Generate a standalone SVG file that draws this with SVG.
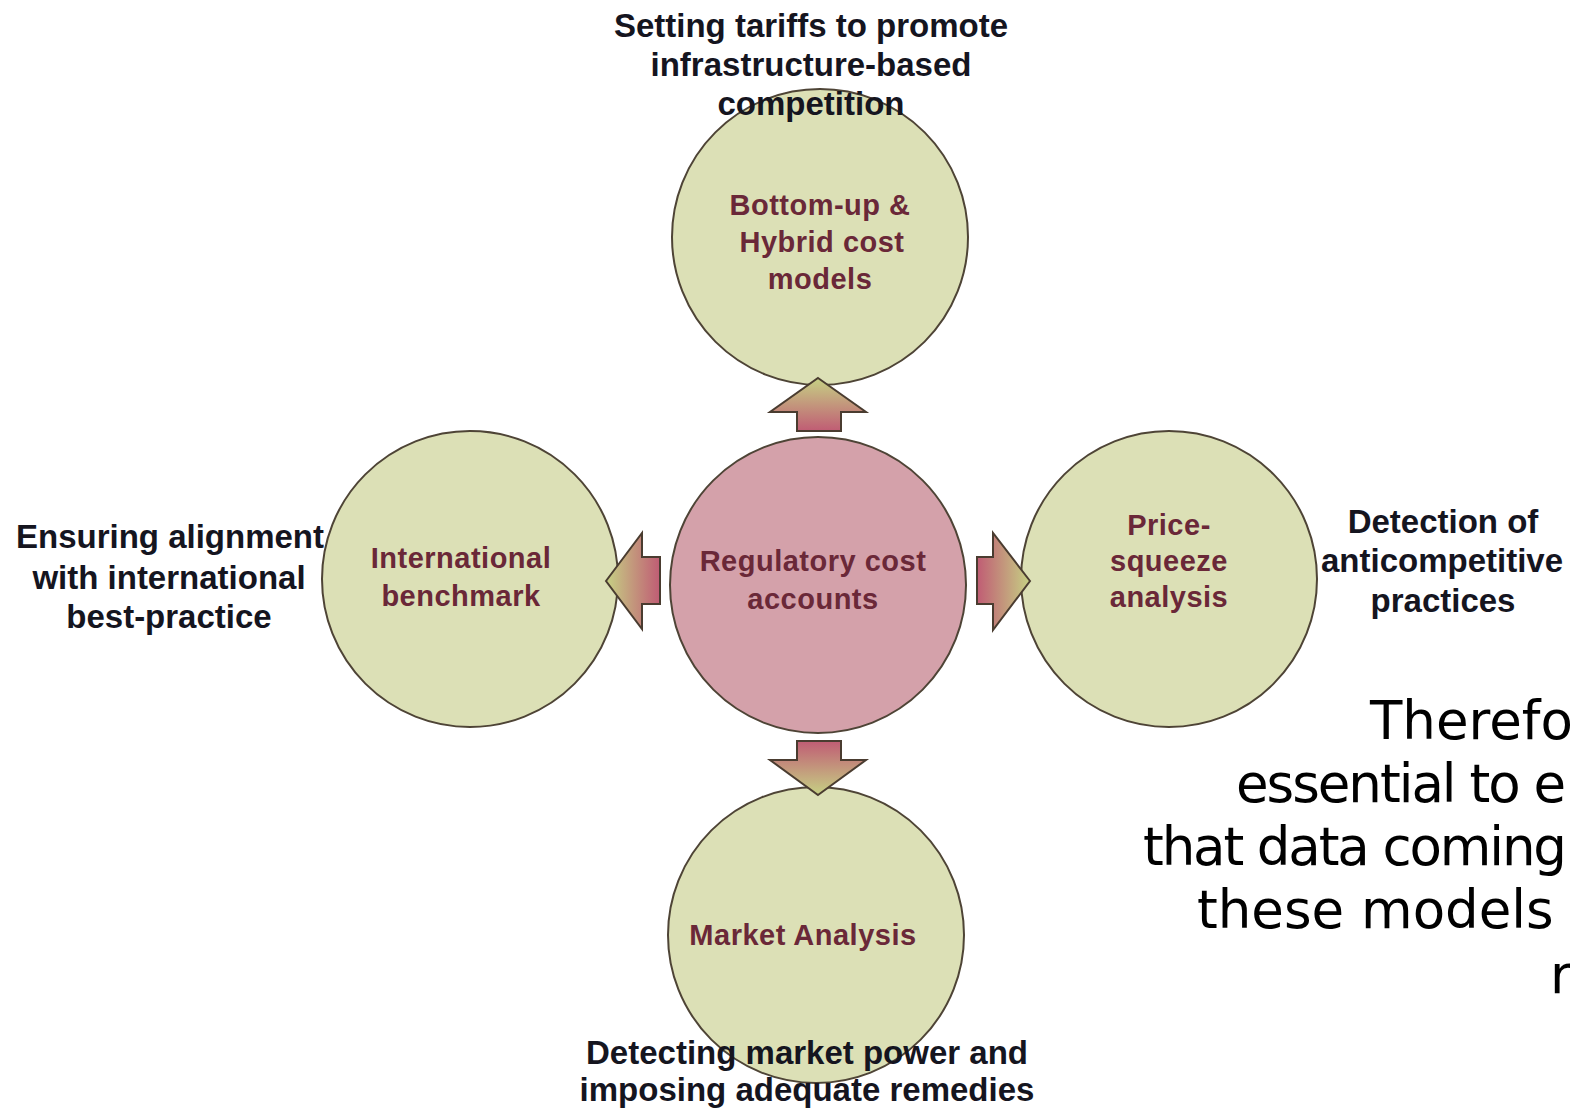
<svg xmlns="http://www.w3.org/2000/svg" width="1570" height="1108" viewBox="0 0 1570 1108">
  <style>
    .node { fill: #dce0b6; stroke: #4e4436; stroke-width: 2; }
    .hub { fill: #d4a1aa; stroke: #4e4436; stroke-width: 2; }
    .lbl { font-family: "Liberation Sans", Arial, sans-serif; font-weight: bold; font-size: 29px; fill: #6a2838; text-anchor: middle; letter-spacing: 0.5px; }
    .out { font-family: "Liberation Sans", Arial, sans-serif; font-weight: bold; font-size: 33px; fill: #15151f; text-anchor: middle; }
    .note { font-family: "DejaVu Sans", Verdana, sans-serif; font-size: 53px; fill: #000; }
    .arrow { stroke: #4a3c30; stroke-width: 2; stroke-linejoin: miter; }
  </style>
  <defs>
    <linearGradient id="gUp" x1="0" y1="1" x2="0" y2="0">
      <stop offset="0" stop-color="#c05c74"/>
      <stop offset="1" stop-color="#c6d184"/>
    </linearGradient>
    <linearGradient id="gDown" x1="0" y1="0" x2="0" y2="1">
      <stop offset="0" stop-color="#c05c74"/>
      <stop offset="1" stop-color="#c6d184"/>
    </linearGradient>
    <linearGradient id="gLeft" x1="1" y1="0" x2="0" y2="0">
      <stop offset="0" stop-color="#c05c74"/>
      <stop offset="1" stop-color="#c6d184"/>
    </linearGradient>
    <linearGradient id="gRight" x1="0" y1="0" x2="1" y2="0">
      <stop offset="0" stop-color="#c05c74"/>
      <stop offset="1" stop-color="#c6d184"/>
    </linearGradient>
  </defs>

  <rect width="1570" height="1108" fill="#ffffff"/>

  <!-- outer circles -->
  <g id="node-bottomup">
    <circle class="node" cx="820" cy="237" r="148"/>
    <text class="lbl"><tspan x="820" y="215">Bottom-up &amp;</tspan><tspan x="822" y="252">Hybrid cost</tspan><tspan x="820" y="289">models</tspan></text>
  </g>
  <g id="node-benchmark">
    <circle class="node" cx="470" cy="579" r="148"/>
    <text class="lbl"><tspan x="461" y="568">International</tspan><tspan x="461" y="606">benchmark</tspan></text>
  </g>
  <g id="node-pricesqueeze">
    <circle class="node" cx="1169" cy="579" r="148"/>
    <text class="lbl"><tspan x="1169" y="535">Price-</tspan><tspan x="1169" y="571">squeeze</tspan><tspan x="1169" y="607">analysis</tspan></text>
  </g>
  <g id="node-market">
    <circle class="node" cx="816" cy="935" r="148"/>
    <text class="lbl"><tspan x="803" y="945">Market Analysis</tspan></text>
  </g>
  <g id="node-hub">
    <circle class="hub" cx="818" cy="585" r="148"/>
    <text class="lbl"><tspan x="813" y="571">Regulatory cost</tspan><tspan x="813" y="609">accounts</tspan></text>
  </g>

  <!-- block arrows from the hub -->
  <g id="connectors">
    <polygon class="arrow" fill="url(#gUp)" points="818,378 866,412 841,412 841,431 797,431 797,412 770,412"/>
    <polygon class="arrow" fill="url(#gDown)" points="818,795 866,760 841,760 841,741 797,741 797,760 770,760"/>
    <polygon class="arrow" fill="url(#gLeft)" points="606,581 642,533 642,557 660,557 660,604 642,604 642,629"/>
    <polygon class="arrow" fill="url(#gRight)" points="1030,581 993,533 993,557 977,557 977,604 993,604 993,630"/>
  </g>

  <!-- purpose labels -->
  <g id="label-top">
    <text class="out"><tspan x="811" y="37">Setting tariffs to promote</tspan><tspan x="811" y="76">infrastructure-based</tspan><tspan x="811" y="115">competition</tspan></text>
  </g>
  <g id="label-left">
    <text class="out"><tspan x="170" y="548">Ensuring alignment</tspan><tspan x="169" y="589">with international</tspan><tspan x="169" y="628">best-practice</tspan></text>
  </g>
  <g id="label-right">
    <text class="out"><tspan x="1443" y="533">Detection of</tspan><tspan x="1442" y="572">anticompetitive</tspan><tspan x="1443" y="612">practices</tspan></text>
  </g>
  <g id="label-bottom">
    <text class="out"><tspan x="807" y="1064">Detecting market power and</tspan><tspan x="807" y="1101">imposing adequate remedies</tspan></text>
  </g>

  <!-- side note -->
  <g id="note">
    <text class="note" x="1370" y="739">Therefo</text>
    <text class="note" x="1236" y="802" textLength="330" lengthAdjust="spacing">essential to e</text>
    <text class="note" x="1143" y="865" textLength="424" lengthAdjust="spacing">that data coming</text>
    <text class="note" x="1197" y="928">these models</text>
    <text class="note" x="1550" y="993">r</text>
  </g>
</svg>
